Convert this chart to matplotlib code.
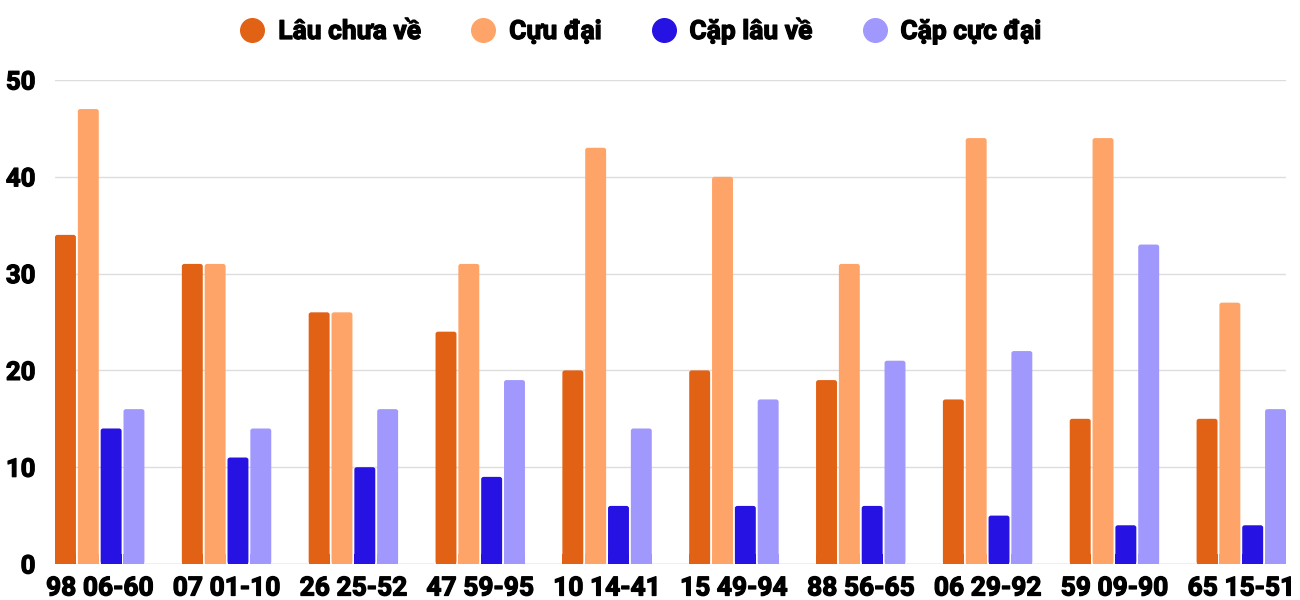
import matplotlib
matplotlib.use("Agg")
import matplotlib.pyplot as plt
from matplotlib.patches import FancyBboxPatch
from matplotlib.lines import Line2D
import matplotlib.patheffects as pe
import numpy as np

categories = ["98 06-60", "07 01-10", "26 25-52", "47 59-95", "10 14-41",
              "15 49-94", "88 56-65", "06 29-92", "59 09-90", "65 15-51"]
series_names = ["Lâu chưa về", "Cựu đại", "Cặp lâu về", "Cặp cực đại"]
lau_chua_ve = [34, 31, 26, 24, 20, 20, 19, 17, 15, 15]
cuc_dai = [47, 31, 26, 31, 43, 40, 31, 44, 44, 27]
cap_lau_ve = [14, 11, 10, 9, 6, 6, 6, 5, 4, 4]
cap_cuc_dai = [16, 14, 16, 19, 14, 17, 21, 22, 33, 16]
colors = ["#E26215", "#FFA468", "#2612E2", "#A198FE"]
yticks = [0, 10, 20, 30, 40, 50]

plt.rcParams['font.family'] = ['Roboto', 'DejaVu Sans']
W = 'bold'
heavy = [pe.withStroke(linewidth=0.9, foreground='black')]

fig = plt.figure(figsize=(13, 6), dpi=100)
ax = fig.add_axes([55/1300, 1-564/600, (1286-55)/1300, (564-80)/600])

x = np.arange(len(categories))
bw = 0.165
step = 0.18
all_series = [lau_chua_ve, cuc_dai, cap_lau_ve, cap_cuc_dai]
for i, (vals, col) in enumerate(zip(all_series, colors)):
    offs = (i - 1.5) * step
    bars = ax.bar(x + offs, vals, width=bw, color=col, zorder=3)
    for b in bars:
        b.set_visible(False)
        xx, yy = b.get_x(), b.get_y()
        w, h = b.get_width(), b.get_height()
        p = FancyBboxPatch((xx, yy), w, h,
                           boxstyle="round,pad=0,rounding_size=0.02",
                           mutation_aspect=(50/484)/(10.705/1231),
                           facecolor=col, edgecolor='none', zorder=3)
        ax.add_patch(p)
        ax.add_patch(plt.Rectangle((xx, yy), w, min(h, 1.0), facecolor=col,
                                   edgecolor='none', zorder=3))

ax.set_xlim(-1.5*step - bw/2, len(categories) - 1 + 1.5*step + bw/2)
ax.set_ylim(0, 50)
ax.set_yticks(yticks)
ax.set_yticklabels([str(t) for t in yticks], fontsize=18.5, fontweight=W)
ax.set_xticks(x)
ax.set_xticklabels(categories, fontsize=19, fontweight=W)
for lab in ax.get_xticklabels() + ax.get_yticklabels():
    lab.set_path_effects(heavy)
ax.tick_params(axis='both', length=0)
ax.tick_params(axis='y', pad=14)
ax.tick_params(axis='x', pad=9)
ax.grid(axis='y', color='#dddddd', linewidth=1, zorder=0)
for s in ax.spines.values():
    s.set_visible(False)
ax.axhline(0, color='#cccccc', linewidth=1, zorder=2)

handles = [Line2D([0], [0], marker='o', linestyle='none', markersize=17,
                  markerfacecolor=c, markeredgecolor=c) for c in colors]
leg = fig.legend(handles, series_names, loc='center', bbox_to_anchor=(639/1300, 1-31/600),
                 ncol=4, frameon=False, prop={'size': 19, 'weight': W},
                 handletextpad=0.38, columnspacing=1.75, handlelength=1.2)
for t in leg.get_texts():
    t.set_path_effects(heavy)

fig.savefig("out.png", dpi=100, facecolor='white')
